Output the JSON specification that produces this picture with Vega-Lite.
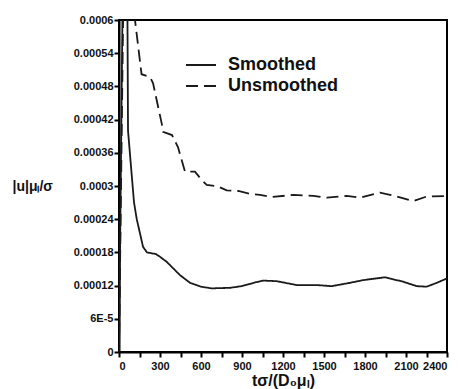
{
  "$schema": "https://vega.github.io/schema/vega-lite/v6.json",
  "autosize": {"type": "none"},
  "width": 328,
  "height": 332,
  "padding": {"left": 119, "top": 20, "right": 14, "bottom": 37},
  "background": "white",
  "config": {
    "view": {"stroke": "black", "strokeWidth": 2},
    "font": "Liberation Sans",
    "axis": {
      "grid": false,
      "domainColor": "black",
      "domainWidth": 2,
      "tickColor": "black",
      "tickWidth": 2,
      "tickSize": 5,
      "labelFont": "Liberation Sans",
      "labelFontWeight": "bold",
      "labelFontSize": 11,
      "labelColor": "#111",
      "titleFont": "Liberation Sans",
      "titleFontWeight": "bold",
      "titleColor": "#111"
    }
  },
  "data": {
    "values": [
      {"t": 0, "v": 0, "s": "Smoothed"},
      {"t": 50, "v": 0.0012, "s": "Smoothed"},
      {"t": 66, "v": 0.0004, "s": "Smoothed"},
      {"t": 93, "v": 0.00032, "s": "Smoothed"},
      {"t": 110, "v": 0.00027, "s": "Smoothed"},
      {"t": 130, "v": 0.00024, "s": "Smoothed"},
      {"t": 176, "v": 0.00019, "s": "Smoothed"},
      {"t": 205, "v": 0.00018, "s": "Smoothed"},
      {"t": 270, "v": 0.000177, "s": "Smoothed"},
      {"t": 300, "v": 0.000172, "s": "Smoothed"},
      {"t": 349, "v": 0.000163, "s": "Smoothed"},
      {"t": 446, "v": 0.000139, "s": "Smoothed"},
      {"t": 520, "v": 0.000125, "s": "Smoothed"},
      {"t": 600, "v": 0.000118, "s": "Smoothed"},
      {"t": 678, "v": 0.000115, "s": "Smoothed"},
      {"t": 812, "v": 0.000116, "s": "Smoothed"},
      {"t": 898, "v": 0.000119, "s": "Smoothed"},
      {"t": 1000, "v": 0.000126, "s": "Smoothed"},
      {"t": 1056, "v": 0.000129, "s": "Smoothed"},
      {"t": 1154, "v": 0.000128, "s": "Smoothed"},
      {"t": 1300, "v": 0.000121, "s": "Smoothed"},
      {"t": 1447, "v": 0.000121, "s": "Smoothed"},
      {"t": 1556, "v": 0.000119, "s": "Smoothed"},
      {"t": 1690, "v": 0.000125, "s": "Smoothed"},
      {"t": 1788, "v": 0.00013, "s": "Smoothed"},
      {"t": 1946, "v": 0.000135, "s": "Smoothed"},
      {"t": 2080, "v": 0.000127, "s": "Smoothed"},
      {"t": 2178, "v": 0.000119, "s": "Smoothed"},
      {"t": 2251, "v": 0.000118, "s": "Smoothed"},
      {"t": 2325, "v": 0.000125, "s": "Smoothed"},
      {"t": 2400, "v": 0.000133, "s": "Smoothed"},
      {"t": 0, "v": 0, "s": "Unsmoothed"},
      {"t": 60, "v": 0.0012, "s": "Unsmoothed"},
      {"t": 117, "v": 0.0006, "s": "Unsmoothed"},
      {"t": 165, "v": 0.000502, "s": "Unsmoothed"},
      {"t": 227, "v": 0.000497, "s": "Unsmoothed"},
      {"t": 249, "v": 0.000486, "s": "Unsmoothed"},
      {"t": 315, "v": 0.00041, "s": "Unsmoothed"},
      {"t": 322, "v": 0.000398, "s": "Unsmoothed"},
      {"t": 388, "v": 0.000392, "s": "Unsmoothed"},
      {"t": 432, "v": 0.00037, "s": "Unsmoothed"},
      {"t": 483, "v": 0.000326, "s": "Unsmoothed"},
      {"t": 556, "v": 0.000326, "s": "Unsmoothed"},
      {"t": 605, "v": 0.000311, "s": "Unsmoothed"},
      {"t": 642, "v": 0.000302, "s": "Unsmoothed"},
      {"t": 727, "v": 0.000299, "s": "Unsmoothed"},
      {"t": 788, "v": 0.000292, "s": "Unsmoothed"},
      {"t": 873, "v": 0.000291, "s": "Unsmoothed"},
      {"t": 959, "v": 0.000286, "s": "Unsmoothed"},
      {"t": 1032, "v": 0.000284, "s": "Unsmoothed"},
      {"t": 1117, "v": 0.00028, "s": "Unsmoothed"},
      {"t": 1276, "v": 0.000284, "s": "Unsmoothed"},
      {"t": 1422, "v": 0.000282, "s": "Unsmoothed"},
      {"t": 1520, "v": 0.000279, "s": "Unsmoothed"},
      {"t": 1666, "v": 0.000282, "s": "Unsmoothed"},
      {"t": 1763, "v": 0.000279, "s": "Unsmoothed"},
      {"t": 1910, "v": 0.000288, "s": "Unsmoothed"},
      {"t": 1983, "v": 0.000284, "s": "Unsmoothed"},
      {"t": 2154, "v": 0.000273, "s": "Unsmoothed"},
      {"t": 2251, "v": 0.000281, "s": "Unsmoothed"},
      {"t": 2400, "v": 0.000282, "s": "Unsmoothed"}
    ]
  },
  "mark": {"type": "line", "clip": true, "strokeWidth": 1.8, "color": "#1a1a1a"},
  "encoding": {
    "x": {
      "field": "t", "type": "quantitative",
      "scale": {"domain": [0, 2400], "nice": false},
      "axis": {
        "orient": "bottom",
        "values": [0,150,300,450,600,750,900,1050,1200,1350,1500,1650,1800,1950,2100,2250,2400],
        "format": "d",
        "labelExpr": "datum.value % 300 == 0 ? datum.label : ''",
        "labelPadding": 3,
        "title": "tσ/(D₀μₗ)",
        "titleFontSize": 16,
        "titlePadding": 1
      }
    },
    "y": {
      "field": "v", "type": "quantitative",
      "scale": {"domain": [0, 0.0006], "nice": false, "zero": true},
      "axis": {
        "orient": "left",
        "values": [0, 0.00006, 0.00012, 0.00018, 0.00024, 0.0003, 0.00036, 0.00042, 0.00048, 0.00054, 0.0006],
        "labelExpr": "datum.value == 0 ? '0' : (datum.value < 0.0001 ? '6E-5' : format(datum.value, '.2~g'))",
        "labelPadding": 1,
        "title": "|u|μₗ/σ",
        "titleFontSize": 14,
        "titleAngle": 0,
        "titleAlign": "left",
        "titleBaseline": "middle",
        "titleX": -107,
        "titleY": 166
      }
    },
    "strokeDash": {
      "field": "s", "type": "nominal",
      "scale": {"domain": ["Smoothed", "Unsmoothed"], "range": [[1, 0], [12, 6]]},
      "legend": {
        "orient": "none",
        "legendX": 73,
        "legendY": 36,
        "title": null,
        "symbolType": "M-3,0H3",
        "symbolSize": 100,
        "symbolStrokeWidth": 2,
        "symbolStrokeColor": "#1a1a1a",
        "symbolFillColor": "transparent",
        "labelFont": "Liberation Sans",
        "labelFontWeight": "bold",
        "labelFontSize": 18,
        "labelColor": "#111",
        "labelOffset": 18,
        "rowPadding": 3,
        "padding": 0
      }
    }
  }
}
